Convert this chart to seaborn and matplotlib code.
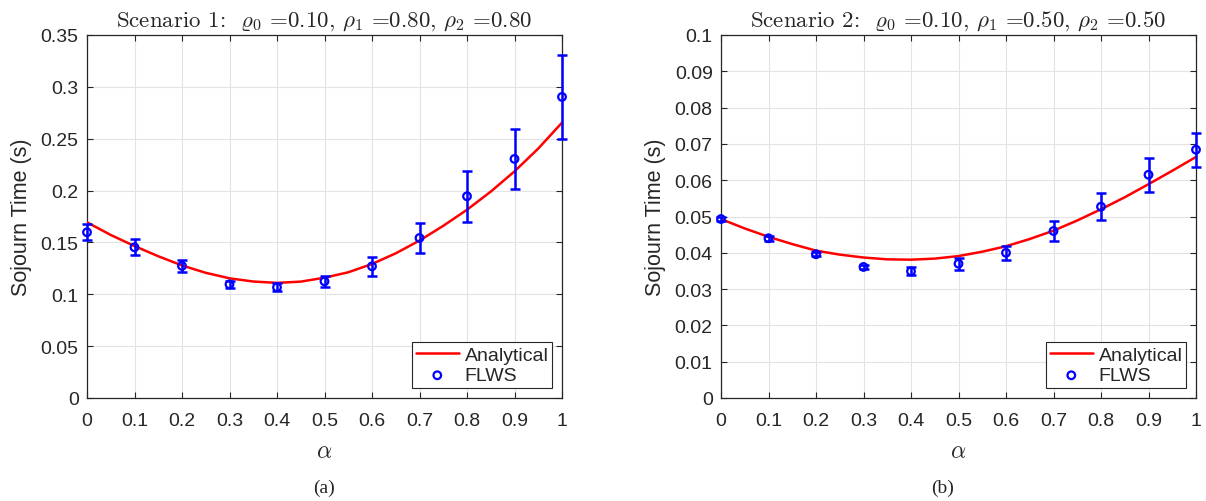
import numpy as np
import pandas as pd
import matplotlib
matplotlib.use("Agg")
import matplotlib.pyplot as plt
import seaborn as sns

# Simulation points (FLWS) with 95% half-widths
alpha_pts = [0.0, 0.1, 0.2, 0.3, 0.4, 0.5, 0.6, 0.7, 0.8, 0.9, 1.0]
flws_s1 = [0.1598, 0.1453, 0.1273, 0.1096, 0.1067, 0.1125, 0.1270, 0.1543, 0.1945, 0.2305, 0.2903]
err_s1 = [0.0075, 0.0077, 0.0060, 0.0035, 0.0040, 0.0053, 0.0094, 0.0142, 0.0248, 0.0290, 0.0405]
flws_s2 = [0.0493, 0.0440, 0.0396, 0.0361, 0.0349, 0.0370, 0.0400, 0.0460, 0.0527, 0.0615, 0.0684]
err_s2 = [0.0005, 0.0007, 0.0005, 0.0005, 0.0011, 0.0017, 0.0020, 0.0028, 0.0037, 0.0047, 0.0047]

# Analytical sojourn time
alpha_curve = [0.00, 0.05, 0.10, 0.15, 0.20, 0.25, 0.30, 0.35, 0.40, 0.45, 0.50,
               0.55, 0.60, 0.65, 0.70, 0.75, 0.80, 0.85, 0.90, 0.95, 1.00]
ana_s1 = [0.1694, 0.1572, 0.1465, 0.1367, 0.1278, 0.1207, 0.1154, 0.1123, 0.1110, 0.1122, 0.1160,
          0.1212, 0.1292, 0.1395, 0.1518, 0.1660, 0.1815, 0.1990, 0.2185, 0.2405, 0.2655]
ana_s2 = [0.0493, 0.0467, 0.0444, 0.0424, 0.0406, 0.0395, 0.0387, 0.0382, 0.0381, 0.0384, 0.0391,
          0.0403, 0.0418, 0.0438, 0.0461, 0.0489, 0.0520, 0.0553, 0.0589, 0.0626, 0.0664]

titles = [r"Scenario 1:  $\varrho_0$ =0.10, $\rho_1$ =0.80, $\rho_2$ =0.80",
          r"Scenario 2:  $\varrho_0$ =0.10, $\rho_1$ =0.50, $\rho_2$ =0.50"]
captions = ["(a)", "(b)"]
y_max = [0.35, 0.1]
y_step = [0.05, 0.01]
x_ticks = [0, 0.1, 0.2, 0.3, 0.4, 0.5, 0.6, 0.7, 0.8, 0.9, 1]

sns.set_theme(style="whitegrid")
plt.rcParams["font.family"] = ["Liberation Sans", "DejaVu Sans"]
plt.rcParams["mathtext.fontset"] = "cm"

fig = plt.figure(figsize=(12.06, 5.02), dpi=100)
W, H = 1206, 502
axes = [fig.add_axes([87 / W, 1 - 399 / H, 475 / W, 363 / H]),
        fig.add_axes([721 / W, 1 - 399 / H, 475 / W, 363 / H])]

series = [(flws_s1, err_s1, ana_s1), (flws_s2, err_s2, ana_s2)]

for i, ax in enumerate(axes):
    flws, err, ana = series[i]
    curve = pd.DataFrame({"alpha": alpha_curve, "T": ana})
    pts = pd.DataFrame({"alpha": alpha_pts, "T": flws, "err": err})

    ax.set_facecolor("white")
    sns.lineplot(data=curve, x="alpha", y="T", ax=ax, color="#ff0000", lw=1.8,
                 label="Analytical", zorder=3)
    ax.errorbar(pts["alpha"], pts["T"], yerr=pts["err"], fmt="none", ecolor="#0000ff",
                elinewidth=1.8, capsize=3.8, capthick=1.8, zorder=4, clip_on=False)
    sns.scatterplot(data=pts, x="alpha", y="T", ax=ax, marker="o", s=30,
                    facecolors="none", edgecolor="#0000ff", linewidth=1.6,
                    label="FLWS", zorder=5, clip_on=False)

    ax.set_xlim(0, 1)
    ax.set_ylim(0, y_max[i])
    ax.set_xticks(x_ticks)
    ax.set_xticklabels([f"{t:g}" for t in x_ticks])
    yt = np.round(np.arange(0, y_max[i] + y_step[i] / 2, y_step[i]), 3)
    ax.set_yticks(yt)
    ax.set_yticklabels([f"{t:g}" for t in yt])
    ax.tick_params(axis="both", which="both", direction="in", length=4, width=0.8,
                   labelsize=14, colors="#262626", top=True, right=True,
                   bottom=True, left=True)
    ax.tick_params(axis="x", pad=10)
    ax.tick_params(axis="y", pad=6)
    ax.grid(True, color="#e3e3e3", lw=0.8)
    for s in ax.spines.values():
        s.set_color("#262626")
        s.set_linewidth(0.9)
        s.set_visible(True)

    ax.set_xlabel(r"$\alpha$", fontsize=17, color="#262626", labelpad=8)
    ax.set_ylabel("Sojourn Time (s)", fontsize=15.5, color="#262626", labelpad=6)
    ax.set_title(titles[i], fontsize=16.5, family="cmr10", pad=7)

    leg = ax.legend(loc="lower right", fontsize=14, frameon=True, fancybox=False,
                    edgecolor="#262626", framealpha=1, handlelength=2.2,
                    borderpad=0.2, labelspacing=0.15, handletextpad=0.3,
                    borderaxespad=0.5)
    leg.get_frame().set_linewidth(0.8)

fig.text(324 / W, 1 - 488 / H, captions[0], ha="center", va="center",
         fontsize=14, family="Liberation Serif")
fig.text(943 / W, 1 - 488 / H, captions[1], ha="center", va="center",
         fontsize=14, family="Liberation Serif")

fig.savefig("out.png", dpi=100, facecolor="white")
